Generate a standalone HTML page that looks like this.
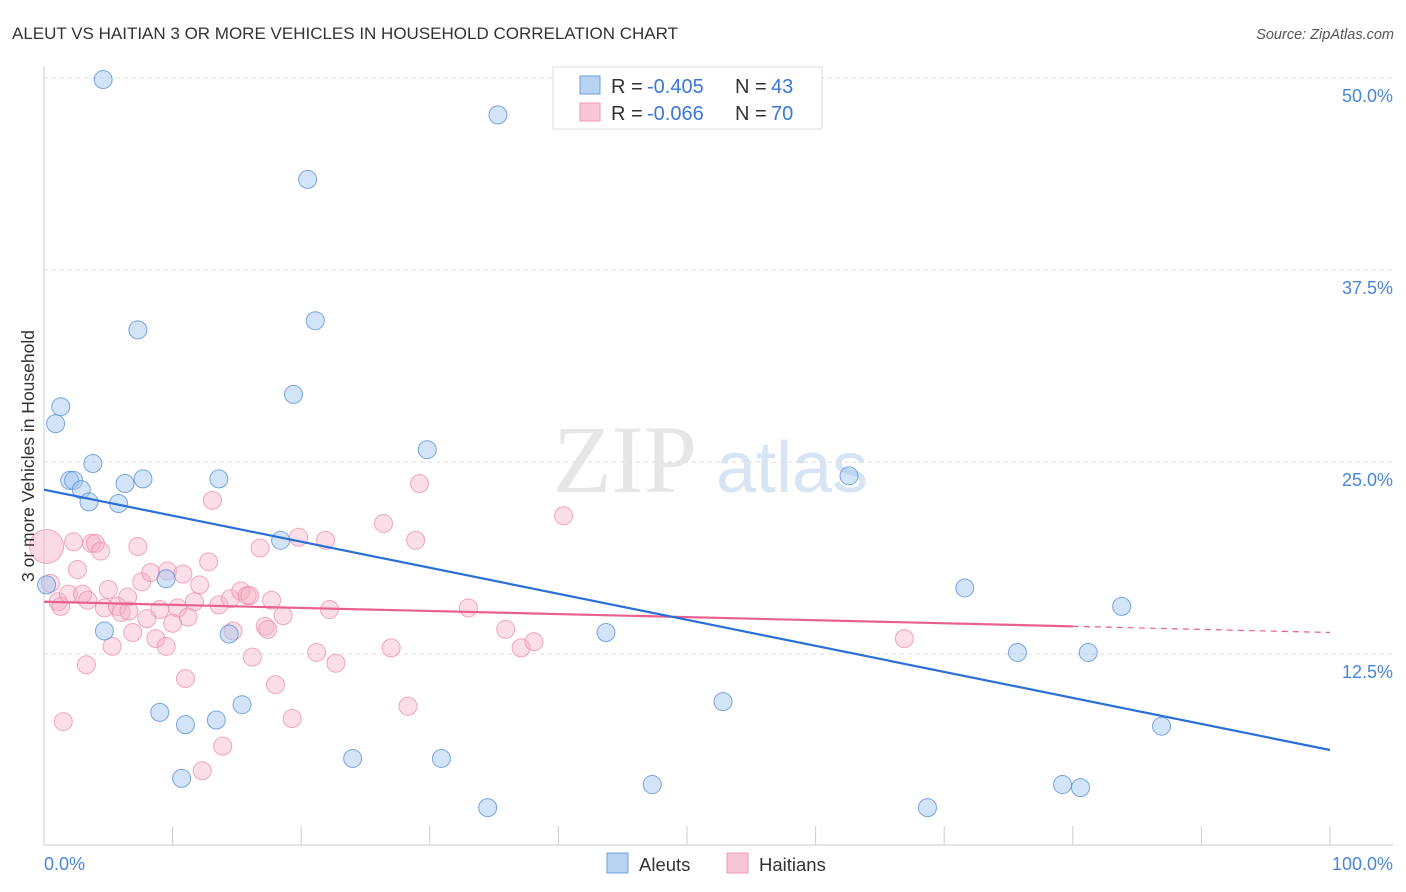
<!DOCTYPE html>
<html><head><meta charset="utf-8"><style>
body{margin:0;background:#fff;font-family:"Liberation Sans",sans-serif}
svg{display:block}
</style></head><body>
<svg id="chart" width="1406" height="892">
<text x="12" y="39" font-size="17" fill="#333">ALEUT VS HAITIAN 3 OR MORE VEHICLES IN HOUSEHOLD CORRELATION CHART</text>
<text x="1394" y="39" font-size="14.5" fill="#555" font-style="italic" text-anchor="end">Source: ZipAtlas.com</text>
<text x="553" y="492" font-size="96" fill="#e6e6e6" font-family="Liberation Serif,serif">ZIP</text>
<text x="716" y="492" font-size="72" fill="#d7e4f4">atlas</text>
<g id="grid"></g><g id="axes"></g><g id="marks"></g>
<text transform="translate(34,456) rotate(-90)" font-size="17.5" fill="#333" text-anchor="middle">3 or more Vehicles in Household</text>
<g>
<rect x="553" y="67" width="269" height="62" fill="#fff" stroke="#ddd"/>
<rect x="580" y="76" width="20" height="18" fill="#b8d2f2" stroke="#6fa0e0"/>
<rect x="580" y="103" width="20" height="18" fill="#f9c6d5" stroke="#f09ab4"/>
<text x="611" y="93" font-size="20" fill="#333">R =</text>
<text x="647" y="93" font-size="20" fill="#3a78d6">-0.405</text>
<text x="735" y="93" font-size="20" fill="#333">N =</text>
<text x="771" y="93" font-size="20" fill="#3a78d6">43</text>
<text x="611" y="120" font-size="20" fill="#333">R =</text>
<text x="647" y="120" font-size="20" fill="#3a78d6">-0.066</text>
<text x="735" y="120" font-size="20" fill="#333">N =</text>
<text x="771" y="120" font-size="20" fill="#3a78d6">70</text>
</g>
<g>
<rect x="607" y="853" width="21" height="20" fill="#b8d2f2" stroke="#6fa0e0"/>
<text x="639" y="871" font-size="18.5" fill="#333">Aleuts</text>
<rect x="727" y="853" width="21" height="20" fill="#f9c6d5" stroke="#f09ab4"/>
<text x="759" y="871" font-size="18.5" fill="#333">Haitians</text>
</g>
</svg>
<script>
const yTicks=[12.5,25.0,37.5,50.0];
const yTickLabels=["12.5%","25.0%","37.5%","50.0%"];
const xTicks=[0,10,20,30,40,50,60,70,80,90,100];
const aleutX=[4.6,35.3,20.5,21.1,7.3,19.4,1.3,0.9,29.8,3.8,2.0,2.3,7.7,13.6,6.3,2.9,3.5,5.8,62.6,18.4,9.5,0.2,71.6,83.8,4.7,43.7,14.4,75.7,81.2,9.0,11.0,13.4,15.4,52.8,86.9,24.0,30.9,10.7,47.3,79.2,80.6,34.5,68.7];
const aleutY=[49.9,47.6,43.4,34.2,33.6,29.4,28.6,27.5,25.8,24.9,23.8,23.8,23.9,23.9,23.6,23.2,22.4,22.3,24.1,19.9,17.4,17.0,16.8,15.6,14.0,13.9,13.8,12.6,12.6,8.7,7.9,8.2,9.2,9.4,7.8,5.7,5.7,4.4,4.0,4.0,3.8,2.5,2.5];
const haitianX=[2.3,3.7,4.0,4.4,7.3,2.6,0.5,1.1,1.3,1.9,3.0,5.0,4.7,5.7,6.5,6.0,6.6,7.6,8.3,9.6,10.8,9.0,10.4,11.7,12.1,12.8,11.2,10.0,8.0,6.9,8.7,9.5,5.3,3.3,1.5,11.0,13.9,12.3,13.1,16.8,19.8,21.9,26.4,28.9,29.2,13.6,14.5,15.3,15.8,16.0,17.7,18.6,14.7,17.2,17.4,22.2,16.2,21.2,22.7,27.0,18.0,28.3,19.3,40.4,33.0,35.9,37.1,38.1,66.9,3.4];
const haitianY=[19.8,19.7,19.7,19.2,19.5,18.0,17.1,15.9,15.6,16.4,16.4,16.7,15.5,15.6,16.2,15.2,15.3,17.2,17.8,17.9,17.7,15.4,15.5,15.9,17.0,18.5,14.9,14.5,14.8,13.9,13.5,13.0,13.0,11.8,8.1,10.9,6.5,4.9,22.5,19.4,20.1,19.9,21.0,19.9,23.6,15.7,16.1,16.6,16.3,16.3,16.0,15.0,14.0,14.3,14.1,15.4,12.3,12.6,11.9,12.9,10.5,9.1,8.3,21.5,15.5,14.1,12.9,13.3,13.5,16.0];
const bigHaitian=[0.2,19.5];
const aleutTrend=[23.2,6.25];
const haitianTrend=[15.9,13.9];
const haitianSolidEnd=80;
const NS='http://www.w3.org/2000/svg';
const X=v=>44+v*12.86, Y=v=>846-v*15.36;
function mk(parent,tag,attrs){const e=document.createElementNS(NS,tag);for(const k in attrs)e.setAttribute(k,attrs[k]);document.getElementById(parent).appendChild(e);return e;}
yTicks.forEach((t,i)=>{
 const l=mk('grid','line',{x1:44,x2:1393,y1:Y(t),y2:Y(t),stroke:'#ddd','stroke-dasharray':'4,4'});
 
 
 const tx=mk('grid','text',{x:1393,y:Y(t)+24,'font-size':18,fill:'#4a86d8','text-anchor':'end'});
 tx.textContent=yTickLabels[i];
 
 
});
const ax=mk('axes','line',{x1:44,x2:1393,y1:845,y2:845,stroke:'#ccc'});


const ay=mk('axes','line',{x1:44,x2:44,y1:66,y2:845,stroke:'#ccc'});


xTicks.forEach(t=>{if(t===0)return;
 const l=mk('axes','line',{x1:X(t),x2:X(t),y1:826,y2:845,stroke:'#ccc'});
 
 
});
const xl0=mk('axes','text',{x:44,y:870,'font-size':18,fill:'#4a86d8'});xl0.textContent='0.0%';


const xl1=mk('axes','text',{x:1393,y:870,'font-size':18,fill:'#4a86d8','text-anchor':'end'});xl1.textContent='100.0%';


const bh=mk('marks','circle',{cx:X(bigHaitian[0]),cy:Y(bigHaitian[1]),r:17,fill:'rgba(246,172,195,0.45)',stroke:'rgba(236,140,170,0.7)'});


haitianX.forEach((x,i)=>{
 const c=mk('marks','circle',{cx:X(x),cy:Y(haitianY[i]),r:9,fill:'rgba(246,172,195,0.4)',stroke:'rgba(236,140,170,0.75)'});
 
 
});
aleutX.forEach((x,i)=>{
 const c=mk('marks','circle',{cx:X(x),cy:Y(aleutY[i]),r:9,fill:'rgba(160,196,240,0.45)',stroke:'rgba(90,145,220,0.8)'});
 
 
});
const hy=x=>haitianTrend[0]+(haitianTrend[1]-haitianTrend[0])*x/100;
const hs=mk('marks','line',{x1:X(0),y1:Y(hy(0)),x2:X(haitianSolidEnd),y2:Y(hy(haitianSolidEnd)),stroke:'#e8608e','stroke-width':2.2});


const hd=mk('marks','line',{x1:X(haitianSolidEnd),y1:Y(hy(haitianSolidEnd)),x2:X(100),y2:Y(hy(100)),stroke:'#e8608e','stroke-width':1.2,'stroke-dasharray':'6,5'});


const at=mk('marks','line',{x1:X(0),y1:Y(aleutTrend[0]),x2:X(100),y2:Y(aleutTrend[1]),stroke:'#2a6fd6','stroke-width':2.2});


</script>
</body></html>
